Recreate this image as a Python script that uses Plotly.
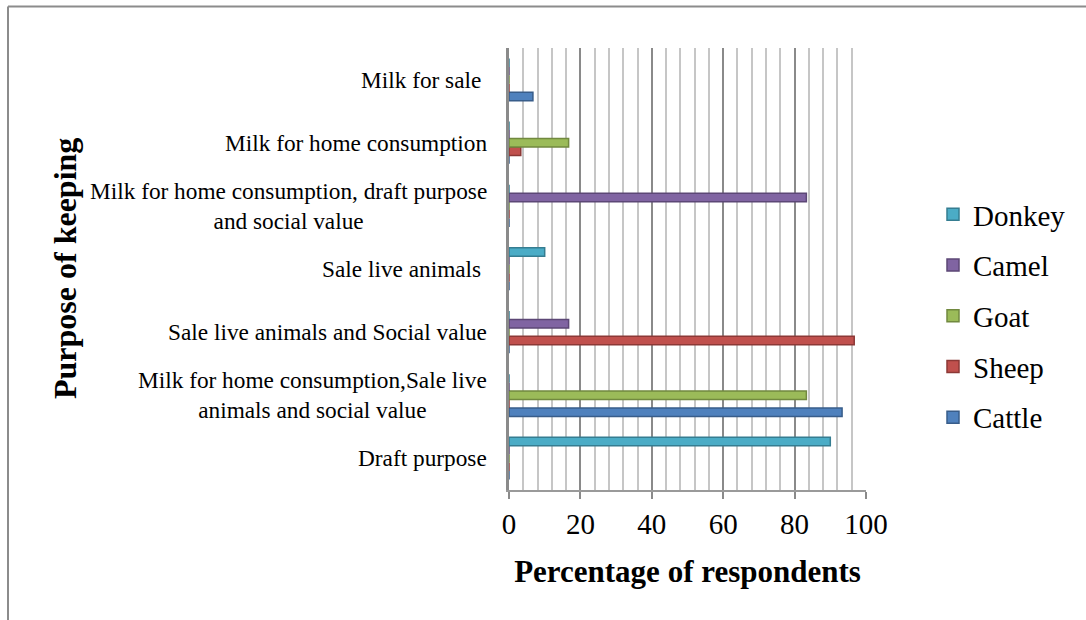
import plotly.graph_objects as go

categories = [
    "Draft purpose",
    "Milk for home consumption,Sale live<br>animals and social value",
    "Sale live animals and Social value",
    "Sale live animals ",
    "Milk for home consumption, draft purpose<br>and social value",
    "Milk for home consumption",
    "Milk for sale ",
]
cattle = [0, 93.3, 0, 0, 0, 0, 6.7]
sheep = [0, 0, 96.7, 0, 0, 3.3, 0]
goat = [0, 83.3, 0, 0, 0, 16.7, 0]
camel = [0, 0, 16.7, 0, 83.3, 0, 0]
donkey = [90, 0, 0, 10, 0, 0, 0]

series = [
    ("Cattle", cattle, "#4F81BD", "#385D8A"),
    ("Sheep", sheep, "#C0504D", "#8C3836"),
    ("Goat", goat, "#9BBB59", "#71893F"),
    ("Camel", camel, "#8064A2", "#5C4776"),
    ("Donkey", donkey, "#4BACC6", "#357D91"),
]

FONT = "Liberation Serif, Times New Roman, serif"

fig = go.Figure()
for k, (name, vals, col, edge) in enumerate(series):
    fig.add_trace(go.Bar(
        y=list(range(len(categories))), x=vals, name=name, orientation="h",
        marker=dict(color=col, line=dict(color=edge, width=1.5)),
        legendgroup=name, legendrank=len(series) - k,
    ))

L, R, T, B = 509, 866, 48, 490
W, H = 1086, 620

fig.update_layout(
    width=W, height=H,
    margin=dict(l=L, r=W - R, t=T, b=H - B, autoexpand=False),
    paper_bgcolor="white", plot_bgcolor="white",
    barmode="group", bargap=0.33, bargroupgap=0,
    font=dict(family=FONT, color="black"),
    showlegend=True,
    legend=dict(
        x=(933 - L) / (R - L), y=(B - 316) / (B - T), xanchor="left", yanchor="middle",
        traceorder="grouped", tracegroupgap=10,
        font=dict(size=29, family=FONT, color="black"),
        bgcolor="rgba(0,0,0,0)",
    ),
    xaxis=dict(
        range=[0, 100], dtick=20, tick0=0,
        showgrid=True, gridcolor="#8A8A8A", gridwidth=2,
        minor=dict(dtick=4, tick0=0, showgrid=True, gridcolor="#C6C6C6", gridwidth=2, ticks=""),
        zeroline=False,
        showline=True, linecolor="#9A9A9A", linewidth=2,
        ticks="outside", ticklen=7, tickcolor="#8A8A8A", tickwidth=2,
        tickfont=dict(size=29, family=FONT, color="black"),
        title=dict(text="<b>Percentage of respondents</b>", font=dict(size=31, family=FONT, color="black"), standoff=22),
        fixedrange=True,
    ),
    yaxis=dict(
        range=[-0.5, len(categories) - 0.5],
        showticklabels=False, showgrid=False, zeroline=False,
        showline=True, linecolor="#8A8A8A", linewidth=3, ticks="",
        fixedrange=True,
    ),
)

ann = []
for i, c in enumerate(categories):
    ann.append(dict(
        x=(489 - L) / (R - L), xref="paper", y=i, yref="y",
        text=c, showarrow=False, xanchor="right", yanchor="middle", align="center",
        font=dict(size=23.3, family=FONT, color="black"),
    ))
ann.append(dict(
    x=(65 - L) / (R - L), xref="paper", y=(B - 269) / (B - T), yref="paper",
    text="<b>Purpose of keeping</b>", textangle=-90, showarrow=False,
    xanchor="center", yanchor="middle",
    font=dict(size=32, family=FONT, color="black"),
))
fig.update_layout(annotations=ann)

def px(xp):
    return (xp - L) / (R - L)

def py(yp):
    return (B - yp) / (B - T)

# outer frame (top and left edges visible)
fig.add_shape(type="line", xref="paper", yref="paper", x0=px(8), x1=px(1090), y0=py(6.5), y1=py(6.5),
              line=dict(color="#8C8C8C", width=2))
fig.add_shape(type="line", xref="paper", yref="paper", x0=px(8), x1=px(8), y0=py(6.5), y1=py(625),
              line=dict(color="#8C8C8C", width=2))

fig.write_html("out.html", config={"displayModeBar": False},
               post_script="document.body.style.margin='0';document.body.style.overflow='hidden';")
